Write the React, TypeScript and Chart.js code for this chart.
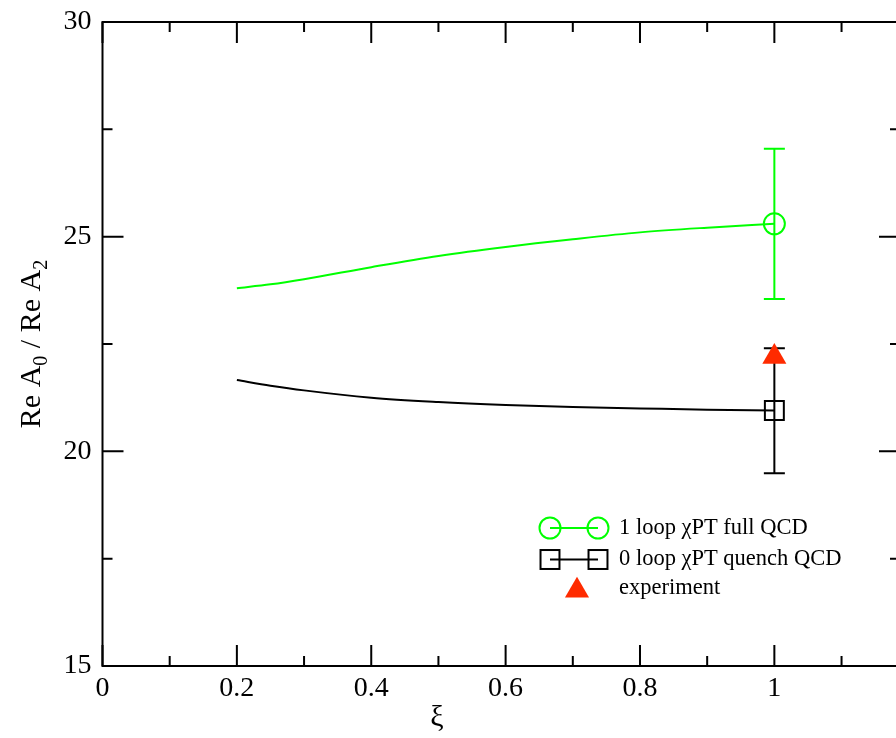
import React, { useEffect, useRef } from 'react';
import { Chart, registerables } from 'chart.js';

Chart.register(...registerables);

// ---- data ----
const XI = [0.2, 0.25, 0.3, 0.4, 0.5, 0.6, 0.7, 0.8, 0.9, 1.0];
const FULL_QCD = [23.8, 23.89, 24.01, 24.29, 24.55, 24.76, 24.94, 25.1, 25.21, 25.3];
const QUENCH_QCD = [21.66, 21.53, 21.42, 21.25, 21.15, 21.08, 21.03, 21.0, 20.97, 20.95];
const FULL_ERR_X = [1.0];
const FULL_ERR_LOW = [23.55];
const FULL_ERR_HIGH = [27.05];
const QUENCH_ERR_X = [1.0];
const QUENCH_ERR_LOW = [19.49];
const QUENCH_ERR_HIGH = [22.4];
const EXPERIMENT_X = [1.0];
const EXPERIMENT_Y = [22.2];

const X_TICKS = [0, 0.2, 0.4, 0.6, 0.8, 1];
const X_TICK_LABELS = ['0', '0.2', '0.4', '0.6', '0.8', '1'];
const X_MINOR = [0.1, 0.3, 0.5, 0.7, 0.9, 1.1];
const Y_TICKS = [15, 20, 25, 30];
const Y_TICK_LABELS = ['15', '20', '25', '30'];
const Y_MINOR = [17.5, 22.5, 27.5];
const X_MIN = 0;
const X_MAX = 1.187;
const Y_MIN = 15;
const Y_MAX = 30;

const LEGEND_LABELS = ['1 loop \u03c7PT full QCD', '0 loop \u03c7PT quench QCD', 'experiment'];
const X_TITLE = '\u03be';

const GREEN = '#00ff00';
const BLACK = '#000000';
const RED = '#ff2b00';
const FONT = "'Liberation Serif', 'DejaVu Serif', serif";

const CIRCLE_R = 10.5;
const RECT_R = 13.4;
const TRI_R = 13.9;

function drawMarker(ctx: CanvasRenderingContext2D, kind: string, x: number, y: number) {
  ctx.save();
  ctx.lineWidth = 2;
  if (kind === 'circle') {
    ctx.strokeStyle = GREEN;
    ctx.beginPath();
    ctx.arc(x, y, CIRCLE_R, 0, Math.PI * 2);
    ctx.stroke();
  } else if (kind === 'rect') {
    ctx.strokeStyle = BLACK;
    const s = RECT_R * Math.SQRT1_2;
    ctx.strokeRect(x - s, y - s, 2 * s, 2 * s);
  } else {
    ctx.fillStyle = RED;
    ctx.beginPath();
    ctx.moveTo(x, y - TRI_R);
    ctx.lineTo(x + TRI_R * 0.866, y + TRI_R * 0.5);
    ctx.lineTo(x - TRI_R * 0.866, y + TRI_R * 0.5);
    ctx.closePath();
    ctx.fill();
  }
  ctx.restore();
}

const decorPlugin = {
  id: 'decor',
  beforeDatasetsDraw(chart: any) {
    const { ctx, scales } = chart;
    const xs = scales.x;
    const ys = scales.y;
    const bars = [
      { xv: FULL_ERR_X, lo: FULL_ERR_LOW, hi: FULL_ERR_HIGH, color: GREEN },
      { xv: QUENCH_ERR_X, lo: QUENCH_ERR_LOW, hi: QUENCH_ERR_HIGH, color: BLACK },
    ];
    ctx.save();
    ctx.lineWidth = 2;
    for (const b of bars) {
      ctx.strokeStyle = b.color;
      for (let i = 0; i < b.xv.length; i++) {
        const px = xs.getPixelForValue(b.xv[i]);
        const plo = ys.getPixelForValue(b.lo[i]);
        const phi = ys.getPixelForValue(b.hi[i]);
        ctx.beginPath();
        ctx.moveTo(px, plo);
        ctx.lineTo(px, phi);
        ctx.moveTo(px - 10.5, plo);
        ctx.lineTo(px + 10.5, plo);
        ctx.moveTo(px - 10.5, phi);
        ctx.lineTo(px + 10.5, phi);
        ctx.stroke();
      }
    }
    ctx.restore();
  },
  afterDraw(chart: any) {
    const { ctx, scales, chartArea } = chart;
    const xs = scales.x;
    const ys = scales.y;
    const { left, right, top, bottom } = chartArea;
    ctx.save();
    ctx.strokeStyle = BLACK;
    ctx.lineWidth = 2;
    ctx.strokeRect(left, top, right - left, bottom - top);
    ctx.beginPath();
    const MAJ = 21;
    const MIN = 10;
    for (const v of X_TICKS) {
      const p = xs.getPixelForValue(v);
      ctx.moveTo(p, bottom);
      ctx.lineTo(p, bottom - MAJ);
      ctx.moveTo(p, top);
      ctx.lineTo(p, top + MAJ);
    }
    for (const v of X_MINOR) {
      const p = xs.getPixelForValue(v);
      ctx.moveTo(p, bottom);
      ctx.lineTo(p, bottom - MIN);
      ctx.moveTo(p, top);
      ctx.lineTo(p, top + MIN);
    }
    for (const v of Y_TICKS) {
      const p = ys.getPixelForValue(v);
      ctx.moveTo(left, p);
      ctx.lineTo(left + MAJ, p);
      ctx.moveTo(right, p);
      ctx.lineTo(right - MAJ, p);
    }
    for (const v of Y_MINOR) {
      const p = ys.getPixelForValue(v);
      ctx.moveTo(left, p);
      ctx.lineTo(left + MIN, p);
      ctx.moveTo(right, p);
      ctx.lineTo(right - MIN, p);
    }
    ctx.stroke();

    // legend
    ctx.lineWidth = 2;
    ctx.strokeStyle = GREEN;
    ctx.beginPath();
    ctx.moveTo(550, 528);
    ctx.lineTo(598, 528);
    ctx.stroke();
    drawMarker(ctx, 'circle', 550, 528);
    drawMarker(ctx, 'circle', 598, 528);
    ctx.strokeStyle = BLACK;
    ctx.beginPath();
    ctx.moveTo(550, 559.5);
    ctx.lineTo(598, 559.5);
    ctx.stroke();
    drawMarker(ctx, 'rect', 550, 559.5);
    drawMarker(ctx, 'rect', 598, 559.5);
    drawMarker(ctx, 'tri', 577, 590.6);
    ctx.fillStyle = BLACK;
    ctx.font = `22.5px ${FONT}`;
    ctx.textAlign = 'left';
    ctx.textBaseline = 'alphabetic';
    ctx.fillText(LEGEND_LABELS[0], 619, 533.5);
    ctx.fillText(LEGEND_LABELS[1], 619, 564.5);
    ctx.fillText(LEGEND_LABELS[2], 619, 594);

    // x title
    ctx.font = `30px ${FONT}`;
    ctx.textAlign = 'center';
    ctx.fillText(X_TITLE, 437, 726);

    // y title with subscripts
    const parts: [string, boolean][] = [
      ['Re A', false],
      ['0', true],
      [' / Re A', false],
      ['2', true],
    ];
    const bigFont = `30px ${FONT}`;
    const smallFont = `20px ${FONT}`;
    let total = 0;
    for (const [t, sub] of parts) {
      ctx.font = sub ? smallFont : bigFont;
      total += ctx.measureText(t).width;
    }
    ctx.translate(40, (top + bottom) / 2);
    ctx.rotate(-Math.PI / 2);
    ctx.textAlign = 'left';
    let cx = -total / 2;
    for (const [t, sub] of parts) {
      ctx.font = sub ? smallFont : bigFont;
      ctx.fillText(t, cx, sub ? 7 : 0);
      cx += ctx.measureText(t).width;
    }
    ctx.restore();
  },
};

export default function App() {
  const ref = useRef<HTMLCanvasElement | null>(null);
  useEffect(() => {
    if (!ref.current) return;
    const chart = new Chart(ref.current, {
      type: 'scatter',
      data: {
        datasets: [
          {
            label: LEGEND_LABELS[0],
            data: XI.map((x, i) => ({ x, y: FULL_QCD[i] })),
            showLine: true,
            borderColor: GREEN,
            borderWidth: 2,
            cubicInterpolationMode: 'monotone',
            pointStyle: 'circle',
            pointRadius: (c: any) => (c.dataIndex === XI.length - 1 ? CIRCLE_R : 0),
            pointBorderColor: GREEN,
            pointBackgroundColor: 'rgba(0,0,0,0)',
            pointBorderWidth: 2,
          },
          {
            label: LEGEND_LABELS[1],
            data: XI.map((x, i) => ({ x, y: QUENCH_QCD[i] })),
            showLine: true,
            borderColor: BLACK,
            borderWidth: 2,
            cubicInterpolationMode: 'monotone',
            pointStyle: 'rect',
            pointRadius: (c: any) => (c.dataIndex === XI.length - 1 ? RECT_R : 0),
            pointBorderColor: BLACK,
            pointBackgroundColor: 'rgba(0,0,0,0)',
            pointBorderWidth: 2,
          },
          {
            label: LEGEND_LABELS[2],
            data: EXPERIMENT_X.map((x, i) => ({ x, y: EXPERIMENT_Y[i] })),
            showLine: false,
            pointStyle: 'triangle',
            pointRadius: TRI_R,
            pointBackgroundColor: RED,
            pointBorderColor: RED,
            pointBorderWidth: 0,
          },
        ] as any,
      },
      options: {
        animation: false,
        responsive: false,
        events: [],
        layout: { padding: { left: 0, top: 22, right: 17, bottom: 0 } },
        plugins: { legend: { display: false }, tooltip: { enabled: false } },
        scales: {
          x: {
            type: 'linear',
            min: X_MIN,
            max: X_MAX,
            afterBuildTicks: (s: any) => {
              s.ticks = X_TICKS.map((v) => ({ value: v }));
            },
            afterFit: (s: any) => {
              s.height = 72;
              s.paddingLeft = 0;
              s.paddingRight = 0;
              s.paddingTop = 0;
              s.paddingBottom = 0;
            },
            grid: { display: false, drawTicks: false },
            border: { display: false },
            ticks: {
              autoSkip: false,
              maxRotation: 0,
              padding: 6,
              color: BLACK,
              font: { family: FONT, size: 28 },
              callback: (v: any, i: number) => X_TICK_LABELS[i],
            },
          },
          y: {
            type: 'linear',
            min: Y_MIN,
            max: Y_MAX,
            afterBuildTicks: (s: any) => {
              s.ticks = Y_TICKS.map((v) => ({ value: v }));
            },
            afterFit: (s: any) => {
              s.width = 102.5;
              s.paddingLeft = 0;
              s.paddingRight = 0;
              s.paddingTop = 0;
              s.paddingBottom = 0;
            },
            grid: { display: false, drawTicks: false },
            border: { display: false },
            ticks: {
              autoSkip: false,
              padding: 11,
              color: BLACK,
              font: { family: FONT, size: 28 },
              callback: (v: any, i: number) => Y_TICK_LABELS[i],
            },
          },
        },
      },
      plugins: [decorPlugin],
    } as any);
    return () => chart.destroy();
  }, []);
  return (
    <div
      style={{
        position: 'fixed',
        left: 0,
        top: 0,
        width: 896,
        height: 738,
        overflow: 'hidden',
        background: '#fff',
      }}
    >
      <div style={{ width: 917, height: 738 }}>
        <canvas ref={ref} width={917} height={738} style={{ width: 917, height: 738, display: 'block' }} />
      </div>
    </div>
  );
}
